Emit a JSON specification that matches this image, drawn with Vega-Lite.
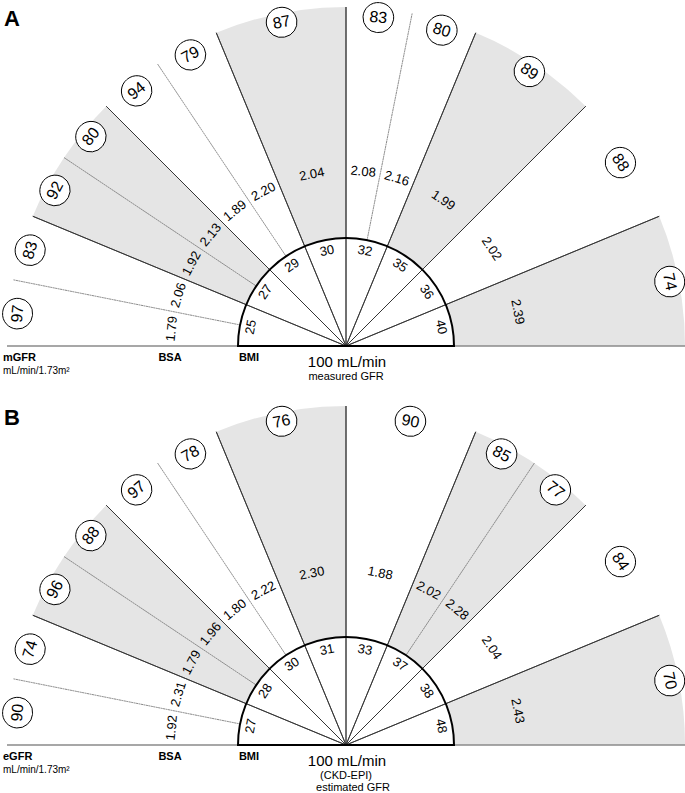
{
  "$schema": "https://vega.github.io/schema/vega-lite/v6.json",
  "padding": 0,
  "background": "white",
  "data": {"values": [
    {"kind": "panel", "panel": "A", "title": "A"},
    {"kind": "panel", "panel": "B", "title": "B"},
    {"kind": "sector", "panel": "A", "a0": 0, "a1": 22.5, "mid": 11.25, "group": "a", "bmi": 25},
    {"kind": "sector", "panel": "A", "a0": 22.5, "a1": 45, "mid": 33.75, "group": "b", "bmi": 27},
    {"kind": "sector", "panel": "A", "a0": 45, "a1": 67.5, "mid": 56.25, "group": "a", "bmi": 29},
    {"kind": "sector", "panel": "A", "a0": 67.5, "a1": 90, "mid": 78.75, "group": "b", "bmi": 30},
    {"kind": "sector", "panel": "A", "a0": 90, "a1": 112.5, "mid": 101.25, "group": "a", "bmi": 32},
    {"kind": "sector", "panel": "A", "a0": 112.5, "a1": 135, "mid": 123.75, "group": "b", "bmi": 35},
    {"kind": "sector", "panel": "A", "a0": 135, "a1": 157.5, "mid": 146.25, "group": "a", "bmi": 36},
    {"kind": "sector", "panel": "A", "a0": 157.5, "a1": 180, "mid": 168.75, "group": "b", "bmi": 40},
    {"kind": "sector", "panel": "B", "a0": 0, "a1": 22.5, "mid": 11.25, "group": "a", "bmi": 27},
    {"kind": "sector", "panel": "B", "a0": 22.5, "a1": 45, "mid": 33.75, "group": "b", "bmi": 28},
    {"kind": "sector", "panel": "B", "a0": 45, "a1": 67.5, "mid": 56.25, "group": "a", "bmi": 30},
    {"kind": "sector", "panel": "B", "a0": 67.5, "a1": 90, "mid": 78.75, "group": "b", "bmi": 31},
    {"kind": "sector", "panel": "B", "a0": 90, "a1": 112.5, "mid": 101.25, "group": "a", "bmi": 33},
    {"kind": "sector", "panel": "B", "a0": 112.5, "a1": 135, "mid": 123.75, "group": "b", "bmi": 37},
    {"kind": "sector", "panel": "B", "a0": 135, "a1": 157.5, "mid": 146.25, "group": "a", "bmi": 38},
    {"kind": "sector", "panel": "B", "a0": 157.5, "a1": 180, "mid": 168.75, "group": "b", "bmi": 48},
    {"kind": "sub", "panel": "A", "mid": 5.625, "gfr": 97, "bsa": 1.79},
    {"kind": "sub", "panel": "A", "mid": 16.875, "gfr": 83, "bsa": 2.06},
    {"kind": "sub", "panel": "A", "mid": 28.125, "gfr": 92, "bsa": 1.92},
    {"kind": "sub", "panel": "A", "mid": 39.375, "gfr": 80, "bsa": 2.13},
    {"kind": "sub", "panel": "A", "mid": 50.625, "gfr": 94, "bsa": 1.89},
    {"kind": "sub", "panel": "A", "mid": 61.875, "gfr": 79, "bsa": 2.20},
    {"kind": "sub", "panel": "A", "mid": 78.75, "gfr": 87, "bsa": 2.04},
    {"kind": "sub", "panel": "A", "mid": 95.625, "gfr": 83, "bsa": 2.08},
    {"kind": "sub", "panel": "A", "mid": 106.875, "gfr": 80, "bsa": 2.16},
    {"kind": "sub", "panel": "A", "mid": 123.75, "gfr": 89, "bsa": 1.99},
    {"kind": "sub", "panel": "A", "mid": 146.25, "gfr": 88, "bsa": 2.02},
    {"kind": "sub", "panel": "A", "mid": 168.75, "gfr": 74, "bsa": 2.39},
    {"kind": "sub", "panel": "B", "mid": 5.625, "gfr": 90, "bsa": 1.92},
    {"kind": "sub", "panel": "B", "mid": 16.875, "gfr": 74, "bsa": 2.31},
    {"kind": "sub", "panel": "B", "mid": 28.125, "gfr": 96, "bsa": 1.79},
    {"kind": "sub", "panel": "B", "mid": 39.375, "gfr": 88, "bsa": 1.96},
    {"kind": "sub", "panel": "B", "mid": 50.625, "gfr": 97, "bsa": 1.80},
    {"kind": "sub", "panel": "B", "mid": 61.875, "gfr": 78, "bsa": 2.22},
    {"kind": "sub", "panel": "B", "mid": 78.75, "gfr": 76, "bsa": 2.30},
    {"kind": "sub", "panel": "B", "mid": 101.25, "gfr": 90, "bsa": 1.88},
    {"kind": "sub", "panel": "B", "mid": 118.125, "gfr": 85, "bsa": 2.02},
    {"kind": "sub", "panel": "B", "mid": 129.375, "gfr": 77, "bsa": 2.28},
    {"kind": "sub", "panel": "B", "mid": 146.25, "gfr": 84, "bsa": 2.04},
    {"kind": "sub", "panel": "B", "mid": 168.75, "gfr": 70, "bsa": 2.43},
    {"kind": "split", "panel": "A", "at": 11.25},
    {"kind": "split", "panel": "A", "at": 33.75},
    {"kind": "split", "panel": "A", "at": 56.25},
    {"kind": "split", "panel": "A", "at": 101.25},
    {"kind": "split", "panel": "B", "at": 11.25},
    {"kind": "split", "panel": "B", "at": 33.75},
    {"kind": "split", "panel": "B", "at": 56.25},
    {"kind": "split", "panel": "B", "at": 123.75},
    {"kind": "note", "panel": "A", "role": "gfr", "text": "mGFR"},
    {"kind": "note", "panel": "A", "role": "unit", "text": "mL/min/1.73m²"},
    {"kind": "note", "panel": "A", "role": "bsa", "text": "BSA"},
    {"kind": "note", "panel": "A", "role": "bmi", "text": "BMI"},
    {"kind": "note", "panel": "A", "role": "ref", "text": "100 mL/min"},
    {"kind": "note", "panel": "A", "role": "l2", "text": "measured GFR"},
    {"kind": "note", "panel": "B", "role": "gfr", "text": "eGFR"},
    {"kind": "note", "panel": "B", "role": "unit", "text": "mL/min/1.73m²"},
    {"kind": "note", "panel": "B", "role": "bsa", "text": "BSA"},
    {"kind": "note", "panel": "B", "role": "bmi", "text": "BMI"},
    {"kind": "note", "panel": "B", "role": "ref", "text": "100 mL/min"},
    {"kind": "note", "panel": "B", "role": "l2", "text": "(CKD-EPI)"},
    {"kind": "note", "panel": "B", "role": "l3", "text": "estimated GFR"}
  ]},
  "facet": {"row": {"field": "panel", "type": "nominal", "header": null}},
  "spacing": {"row": 5},
  "spec": {
    "width": 685,
    "height": 394,
    "encoding": {
      "x": {"datum": 0, "type": "quantitative", "scale": {"domain": [-345, 340], "nice": false, "zero": false}, "axis": null},
      "y": {"datum": 0, "type": "quantitative", "scale": {"domain": [-51, 343], "nice": false, "zero": false}, "axis": null}
    },
    "layer": [
      {
        "transform": [{"filter": "datum.kind == 'sector' && datum.group == 'b'"}],
        "mark": {"type": "arc", "fill": "#e5e5e5", "strokeWidth": 0},
        "encoding": {
          "theta": {"field": "a0", "type": "quantitative", "stack": null, "scale": {"domain": [0, 180], "range": [-1.5707963, 1.5707963], "nice": false, "zero": false}},
          "theta2": {"field": "a1"},
          "radius": {"datum": 339, "type": "quantitative", "scale": {"type": "linear", "domain": [0, 340], "range": [0, 340], "nice": false, "zero": false}},
          "radius2": {"datum": 0}
        }
      },
      {
        "transform": [{"filter": "datum.kind == 'panel'"}],
        "mark": {"type": "arc", "fill": "white", "strokeWidth": 0},
        "encoding": {
          "theta": {"datum": 0, "type": "quantitative"},
          "theta2": {"datum": 180},
          "radius": {"datum": 108, "type": "quantitative"},
          "radius2": {"datum": 0}
        }
      },
      {
        "transform": [{"filter": "datum.kind == 'panel'"}],
        "mark": {"type": "arc", "filled": false, "stroke": "#8a8a8a", "strokeWidth": 1.5},
        "encoding": {
          "theta": {"datum": 0, "type": "quantitative"},
          "theta2": {"datum": 0},
          "radius": {"datum": 339, "type": "quantitative"},
          "radius2": {"datum": 0}
        }
      },
      {
        "transform": [{"filter": "datum.kind == 'panel'"}],
        "mark": {"type": "arc", "filled": false, "stroke": "#8a8a8a", "strokeWidth": 1.5},
        "encoding": {
          "theta": {"datum": 180, "type": "quantitative"},
          "theta2": {"datum": 180},
          "radius": {"datum": 339, "type": "quantitative"},
          "radius2": {"datum": 0}
        }
      },
      {
        "transform": [{"filter": "datum.kind == 'sector' && datum.a0 > 0"}],
        "mark": {"type": "arc", "filled": false, "stroke": "#333333", "strokeWidth": 0.9},
        "encoding": {
          "theta": {"field": "a0", "type": "quantitative", "stack": null},
          "theta2": {"field": "a0"},
          "radius": {"datum": 339, "type": "quantitative"},
          "radius2": {"datum": 0}
        }
      },
      {
        "transform": [{"filter": "datum.kind == 'split'"}],
        "mark": {"type": "arc", "filled": false, "stroke": "#666666", "strokeWidth": 0.8, "strokeDash": [1, 1.5]},
        "encoding": {
          "theta": {"field": "at", "type": "quantitative", "stack": null},
          "theta2": {"field": "at"},
          "radius": {"datum": 339, "type": "quantitative"},
          "radius2": {"datum": 108}
        }
      },
      {
        "transform": [{"filter": "datum.kind == 'panel'"}],
        "mark": {"type": "arc", "filled": false, "stroke": "black", "strokeWidth": 2},
        "encoding": {
          "theta": {"datum": 0, "type": "quantitative"},
          "theta2": {"datum": 180},
          "radius": {"datum": 108, "type": "quantitative"},
          "radius2": {"datum": 0}
        }
      },
      {
        "transform": [{"filter": "datum.kind == 'sector'"}],
        "mark": {"type": "text", "fontSize": 13, "font": "Liberation Sans", "align": "center", "baseline": "middle", "color": "black"},
        "encoding": {
          "theta": {"field": "mid", "type": "quantitative", "stack": null},
          "radius": {"datum": 97, "type": "quantitative"},
          "angle": {"field": "mid", "type": "quantitative", "scale": {"domain": [0, 180], "range": [-90, 90], "nice": false, "zero": false}},
          "text": {"field": "bmi", "type": "quantitative"}
        }
      },
      {
        "transform": [{"filter": "datum.kind == 'sub'"}],
        "mark": {"type": "text", "fontSize": 13, "font": "Liberation Sans", "align": "center", "baseline": "middle", "color": "black"},
        "encoding": {
          "theta": {"field": "mid", "type": "quantitative", "stack": null},
          "radius": {"datum": 175, "type": "quantitative"},
          "angle": {"field": "mid", "type": "quantitative"},
          "text": {"field": "bsa", "type": "quantitative", "format": ".2f"}
        }
      },
      {
        "transform": [{"filter": "datum.kind == 'sub'"}],
        "mark": {"type": "arc", "fill": "white", "stroke": "black", "strokeWidth": 1, "thetaOffset": -0.0465, "theta2Offset": 0.0465, "cornerRadius": 15},
        "encoding": {
          "theta": {"field": "mid", "type": "quantitative", "stack": null},
          "theta2": {"field": "mid"},
          "radius": {"datum": 345, "type": "quantitative"},
          "radius2": {"datum": 315}
        }
      },
      {
        "transform": [{"filter": "datum.kind == 'sub'"}],
        "mark": {"type": "text", "fontSize": 16, "font": "Liberation Sans", "align": "center", "baseline": "middle", "color": "black"},
        "encoding": {
          "theta": {"field": "mid", "type": "quantitative", "stack": null},
          "radius": {"datum": 330, "type": "quantitative"},
          "angle": {"field": "mid", "type": "quantitative"},
          "text": {"field": "gfr", "type": "quantitative"}
        }
      },
      {
        "transform": [{"filter": "datum.kind == 'panel'"}],
        "mark": {"type": "text", "fontSize": 22, "fontWeight": "bold", "font": "Liberation Sans", "align": "left", "baseline": "middle", "color": "black"},
        "encoding": {
          "x": {"datum": -342, "type": "quantitative"},
          "y": {"datum": 327, "type": "quantitative"},
          "text": {"field": "title"}
        }
      },
      {
        "transform": [{"filter": "datum.kind == 'note' && datum.role == 'gfr'"}],
        "mark": {"type": "text", "fontSize": 11, "fontWeight": "bold", "font": "Liberation Sans", "align": "left", "baseline": "middle", "color": "black"},
        "encoding": {
          "x": {"datum": -343, "type": "quantitative"},
          "y": {"datum": -12, "type": "quantitative"},
          "text": {"field": "text"}
        }
      },
      {
        "transform": [{"filter": "datum.kind == 'note' && datum.role == 'unit'"}],
        "mark": {"type": "text", "fontSize": 10, "font": "Liberation Sans", "align": "left", "baseline": "middle", "color": "black"},
        "encoding": {
          "x": {"datum": -343, "type": "quantitative"},
          "y": {"datum": -25, "type": "quantitative"},
          "text": {"field": "text"}
        }
      },
      {
        "transform": [{"filter": "datum.kind == 'note' && datum.role == 'bsa'"}],
        "mark": {"type": "text", "fontSize": 11, "fontWeight": "bold", "font": "Liberation Sans", "align": "center", "baseline": "middle", "color": "black"},
        "encoding": {
          "x": {"datum": -176, "type": "quantitative"},
          "y": {"datum": -12, "type": "quantitative"},
          "text": {"field": "text"}
        }
      },
      {
        "transform": [{"filter": "datum.kind == 'note' && datum.role == 'bmi'"}],
        "mark": {"type": "text", "fontSize": 11, "fontWeight": "bold", "font": "Liberation Sans", "align": "center", "baseline": "middle", "color": "black"},
        "encoding": {
          "x": {"datum": -97, "type": "quantitative"},
          "y": {"datum": -12, "type": "quantitative"},
          "text": {"field": "text"}
        }
      },
      {
        "transform": [{"filter": "datum.kind == 'note' && datum.role == 'ref'"}],
        "mark": {"type": "text", "fontSize": 15, "font": "Liberation Sans", "align": "center", "baseline": "middle", "color": "black"},
        "encoding": {
          "x": {"datum": 1, "type": "quantitative"},
          "y": {"datum": -16, "type": "quantitative"},
          "text": {"field": "text"}
        }
      },
      {
        "transform": [{"filter": "datum.kind == 'note' && datum.role == 'l2'"}],
        "mark": {"type": "text", "fontSize": 11, "font": "Liberation Sans", "align": "center", "baseline": "middle", "color": "black"},
        "encoding": {
          "x": {"datum": 0, "type": "quantitative"},
          "y": {"datum": -31, "type": "quantitative"},
          "text": {"field": "text"}
        }
      },
      {
        "transform": [{"filter": "datum.kind == 'note' && datum.role == 'l3'"}],
        "mark": {"type": "text", "fontSize": 11, "font": "Liberation Sans", "align": "center", "baseline": "middle", "color": "black"},
        "encoding": {
          "x": {"datum": 7, "type": "quantitative"},
          "y": {"datum": -43, "type": "quantitative"},
          "text": {"field": "text"}
        }
      }
    ]
  },
  "config": {"view": {"stroke": null}, "font": "Liberation Sans"}
}
